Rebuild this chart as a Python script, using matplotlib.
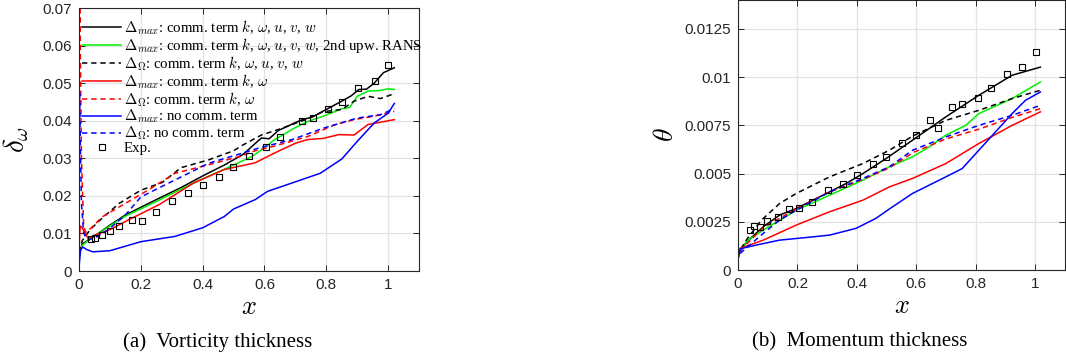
import matplotlib
matplotlib.use("Agg")
import matplotlib.pyplot as plt
from matplotlib.font_manager import FontProperties

plt.rcParams['font.family'] = 'Liberation Sans'
plt.rcParams['mathtext.fontset'] = 'cm'

# ---- (a) vorticity thickness ----
a_blk_x = [0, 0.01, 0.04, 0.1, 0.15, 0.25, 0.33, 0.4, 0.47, 0.53, 0.59, 0.615, 0.645, 0.7, 0.72, 0.755, 0.8, 0.85, 0.88, 0.905, 0.93, 0.955, 0.985, 1.02]
a_blk_y = [0.004, 0.0072, 0.0087, 0.0122, 0.0149, 0.019, 0.0222, 0.0253, 0.0282, 0.031, 0.0354, 0.0352, 0.0374, 0.0395, 0.0402, 0.041, 0.043, 0.0452, 0.0466, 0.0483, 0.0484, 0.05, 0.0528, 0.0541]
a_grn_x = [0, 0.01, 0.04, 0.1, 0.15, 0.25, 0.33, 0.4, 0.5, 0.56, 0.6, 0.63, 0.7, 0.74, 0.79, 0.85, 0.875, 0.9, 0.935, 0.97, 1.0, 1.02]
a_grn_y = [0.004, 0.0068, 0.0088, 0.012, 0.0146, 0.0185, 0.0218, 0.0245, 0.0282, 0.0305, 0.0328, 0.0348, 0.0382, 0.0398, 0.0412, 0.0432, 0.0435, 0.0465, 0.0479, 0.048, 0.0485, 0.0483]
a_blkd_x = [0, 0.01, 0.036, 0.07, 0.13, 0.2, 0.27, 0.33, 0.42, 0.5, 0.525, 0.59, 0.65, 0.73, 0.79, 0.85, 0.89, 0.935, 0.975, 1.02]
a_blkd_y = [0.005, 0.008, 0.011, 0.0137, 0.018, 0.0215, 0.0236, 0.0275, 0.0296, 0.032, 0.0333, 0.0362, 0.0378, 0.0402, 0.0424, 0.043, 0.0452, 0.0465, 0.0459, 0.0472]
a_red_x = [0, 0.004, 0.01, 0.03, 0.05, 0.1, 0.16, 0.26, 0.37, 0.47, 0.57, 0.63, 0.7, 0.74, 0.79, 0.84, 0.89, 0.935, 0.975, 1.02]
a_red_y = [0.006, 0.012, 0.0115, 0.0086, 0.0095, 0.011, 0.0136, 0.0177, 0.0234, 0.027, 0.0288, 0.0313, 0.034, 0.035, 0.0353, 0.0363, 0.0362, 0.039, 0.0396, 0.0403]
a_redd_x = [0, 0.002, 0.004, 0.008, 0.015, 0.022, 0.04, 0.075, 0.15, 0.225, 0.31, 0.42, 0.52, 0.57, 0.63, 0.74, 0.83, 0.89, 0.955, 1.02]
a_redd_y = [0.01, 0.075, 0.06, 0.03, 0.012, 0.0103, 0.0115, 0.0144, 0.018, 0.0216, 0.026, 0.0283, 0.0305, 0.032, 0.0332, 0.0358, 0.039, 0.0403, 0.0412, 0.0425]
a_blu_x = [0, 0.005, 0.012, 0.025, 0.045, 0.1, 0.2, 0.31, 0.4, 0.47, 0.5, 0.57, 0.61, 0.72, 0.78, 0.85, 0.9, 0.955, 1.0, 1.02]
a_blu_y = [0.001, 0.0055, 0.0064, 0.0057, 0.0051, 0.0054, 0.0078, 0.0092, 0.0115, 0.0145, 0.0165, 0.019, 0.0212, 0.0243, 0.026, 0.0298, 0.0345, 0.0394, 0.042, 0.0446]
a_blud_x = [0, 0.002, 0.004, 0.008, 0.015, 0.03, 0.06, 0.095, 0.15, 0.2, 0.29, 0.42, 0.53, 0.58, 0.69, 0.79, 0.9, 0.975, 1.02]
a_blud_y = [0.005, 0.048, 0.035, 0.018, 0.01, 0.0082, 0.0092, 0.011, 0.0149, 0.0197, 0.0234, 0.0287, 0.0314, 0.0327, 0.035, 0.038, 0.0407, 0.0416, 0.0432]
a_exp_x = [0.038, 0.052, 0.074, 0.1, 0.13, 0.171, 0.205, 0.249, 0.301, 0.354, 0.40, 0.454, 0.498, 0.55, 0.605, 0.649, 0.721, 0.756, 0.805, 0.851, 0.903, 0.958, 1.0]
a_exp_y = [0.0084, 0.0087, 0.0095, 0.0107, 0.0121, 0.0137, 0.0134, 0.0157, 0.0185, 0.0207, 0.023, 0.0249, 0.0278, 0.0307, 0.0331, 0.0357, 0.040, 0.0408, 0.043, 0.0451, 0.0486, 0.0507, 0.0547]

# ---- (b) momentum thickness ----
b_blk_x = [0.007, 0.029, 0.085, 0.14, 0.196, 0.252, 0.308, 0.364, 0.42, 0.498, 0.587, 0.699, 0.81, 0.922, 1.017]
b_blk_y = [0.00095, 0.00146, 0.00224, 0.00285, 0.00319, 0.00362, 0.00405, 0.00449, 0.005, 0.00578, 0.00673, 0.00794, 0.00906, 0.0101, 0.01052]
b_grn_x = [0.007, 0.03, 0.085, 0.196, 0.308, 0.42, 0.509, 0.587, 0.643, 0.699, 0.766, 0.81, 0.922, 1.017]
b_grn_y = [0.001, 0.0015, 0.00207, 0.0031, 0.00388, 0.00466, 0.00535, 0.00587, 0.00638, 0.00699, 0.0075, 0.00811, 0.00889, 0.00975]
b_blkd_x = [0.01, 0.03, 0.079, 0.14, 0.196, 0.308, 0.42, 0.509, 0.587, 0.699, 0.81, 0.922, 1.017]
b_blkd_y = [0.0011, 0.0016, 0.00259, 0.00345, 0.00397, 0.00483, 0.00552, 0.00621, 0.00694, 0.00776, 0.00828, 0.00889, 0.00932]
b_red_x = [0.007, 0.085, 0.196, 0.308, 0.42, 0.509, 0.587, 0.699, 0.81, 0.922, 1.017]
b_red_y = [0.00112, 0.00155, 0.00233, 0.00302, 0.00362, 0.00431, 0.00475, 0.00552, 0.00656, 0.0075, 0.0082]
b_redd_x = [0.007, 0.085, 0.2, 0.25, 0.3, 0.42, 0.51, 0.59, 0.7, 0.81, 0.92, 1.017]
b_redd_y = [0.001, 0.0022, 0.0032, 0.0036, 0.004, 0.0047, 0.0053, 0.0061, 0.0068, 0.0073, 0.0079, 0.00837]
b_blu_x = [0.003, 0.007, 0.063, 0.14, 0.252, 0.308, 0.397, 0.464, 0.52, 0.587, 0.699, 0.754, 0.81, 0.866, 0.922, 0.967, 1.017]
b_blu_y = [0.0007, 0.0011, 0.0013, 0.00155, 0.00172, 0.00181, 0.00216, 0.00268, 0.00328, 0.00397, 0.00483, 0.00526, 0.00621, 0.00716, 0.00811, 0.0088, 0.00923]
b_blud_x = [0.007, 0.085, 0.14, 0.196, 0.308, 0.42, 0.509, 0.587, 0.699, 0.81, 0.922, 1.017]
b_blud_y = [0.00086, 0.0019, 0.00259, 0.0031, 0.00405, 0.00475, 0.00535, 0.00621, 0.0069, 0.0075, 0.00802, 0.00854]
b_exp_x = [0.04, 0.054, 0.074, 0.098, 0.133, 0.172, 0.205, 0.249, 0.302, 0.353, 0.40, 0.453, 0.498, 0.55, 0.60, 0.647, 0.672, 0.721, 0.752, 0.806, 0.85, 0.904, 0.955, 1.002]
b_exp_y = [0.00207, 0.00229, 0.00221, 0.00255, 0.00276, 0.00314, 0.00324, 0.00354, 0.00414, 0.00445, 0.00492, 0.00552, 0.00587, 0.00661, 0.00702, 0.0078, 0.00735, 0.00844, 0.00859, 0.00892, 0.00945, 0.01014, 0.01054, 0.0113]

labels = [
    r'$\Delta_{max}$: comm. term $k$, $\omega$, $u$, $v$, $w$',
    r'$\Delta_{max}$: comm. term $k$, $\omega$, $u$, $v$, $w$, 2nd upw. RANS',
    r'$\Delta_{\Omega}$: comm. term $k$, $\omega$, $u$, $v$, $w$',
    r'$\Delta_{max}$: comm. term $k$, $\omega$',
    r'$\Delta_{\Omega}$: comm. term $k$, $\omega$',
    r'$\Delta_{max}$: no comm. term',
    r'$\Delta_{\Omega}$: no comm. term',
    'Exp.',
]

lw = 1.1
fig = plt.figure(figsize=(10.66, 3.61), dpi=100)
ax1 = fig.add_axes([0.0741, 0.2493, 0.319, 0.7285])
ax2 = fig.add_axes([0.6923, 0.252, 0.3068, 0.748])


def draw(ax, d):
    ax.plot(d[0], d[1], color='k', lw=lw)
    ax.plot(d[2], d[3], color='#00ee00', lw=lw)
    ax.plot(d[4], d[5], color='k', lw=lw, ls=(0, (3.5, 2.5)))
    ax.plot(d[6], d[7], color='#ff0000', lw=lw)
    ax.plot(d[8], d[9], color='#ff0000', lw=lw, ls=(0, (3.5, 2.5)))
    ax.plot(d[10], d[11], color='#0000ff', lw=lw)
    ax.plot(d[12], d[13], color='#0000ff', lw=lw, ls=(0, (3.5, 2.5)))
    ax.plot(d[14], d[15], ls='none', marker='s', ms=4, mfc='none', mec='k', mew=0.8)


def style(ax):
    ax.set_xlim(0, 1.1)
    ax.set_xticks([0, 0.2, 0.4, 0.6, 0.8, 1])
    ax.set_xticklabels(['0', '0.2', '0.4', '0.6', '0.8', '1'])
    ax.grid(True, color='#e3e3e3', lw=0.9)
    ax.set_axisbelow(True)
    ax.tick_params(direction='in', top=True, right=True, length=4, width=0.7,
                   colors='#262626', labelsize=11, pad=5)
    for s in ax.spines.values():
        s.set_color('#262626')
        s.set_linewidth(0.8)
    ax.set_xlabel(r'$x$', fontsize=19, labelpad=2)


draw(ax1, [a_blk_x, a_blk_y, a_grn_x, a_grn_y, a_blkd_x, a_blkd_y, a_red_x, a_red_y,
           a_redd_x, a_redd_y, a_blu_x, a_blu_y, a_blud_x, a_blud_y, a_exp_x, a_exp_y])
style(ax1)
ax1.set_ylim(0, 0.07)
ax1.set_yticks([0, 0.01, 0.02, 0.03, 0.04, 0.05, 0.06, 0.07])
ax1.set_yticklabels(['0', '0.01', '0.02', '0.03', '0.04', '0.05', '0.06', '0.07'])
ax1.set_ylabel(r'$\delta_\omega$', fontsize=21)
ax1.yaxis.set_label_coords(-0.142, 0.5)

draw(ax2, [b_blk_x, b_blk_y, b_grn_x, b_grn_y, b_blkd_x, b_blkd_y, b_red_x, b_red_y,
           b_redd_x, b_redd_y, b_blu_x, b_blu_y, b_blud_x, b_blud_y, b_exp_x, b_exp_y])
style(ax2)
ax2.set_ylim(0, 0.014)
ax2.set_yticks([0, 0.0025, 0.005, 0.0075, 0.01, 0.0125])
ax2.set_yticklabels(['0', '0.0025', '0.005', '0.0075', '0.01', '0.0125'])
ax2.set_ylabel(r'$\theta$', fontsize=20, labelpad=4)

leg_font = FontProperties(family='Liberation Serif', size=10.7, math_fontfamily='cm')
ax1.legend(ax1.lines, labels, loc='upper left', bbox_to_anchor=(0.01, 0.96),
           frameon=False, prop=leg_font, handlelength=2.6, handletextpad=0.2,
           labelspacing=-0.05, borderaxespad=0, borderpad=0)

fig.text(218 / 1066, 1 - 342 / 361, '(a)  Vorticity thickness', ha='center', va='center',
         family='Liberation Serif', fontsize=15)
fig.text(860 / 1066, 1 - 342 / 361, '(b)  Momentum thickness', ha='center', va='center',
         family='Liberation Serif', fontsize=15)

fig.savefig('out.png', dpi=100)
